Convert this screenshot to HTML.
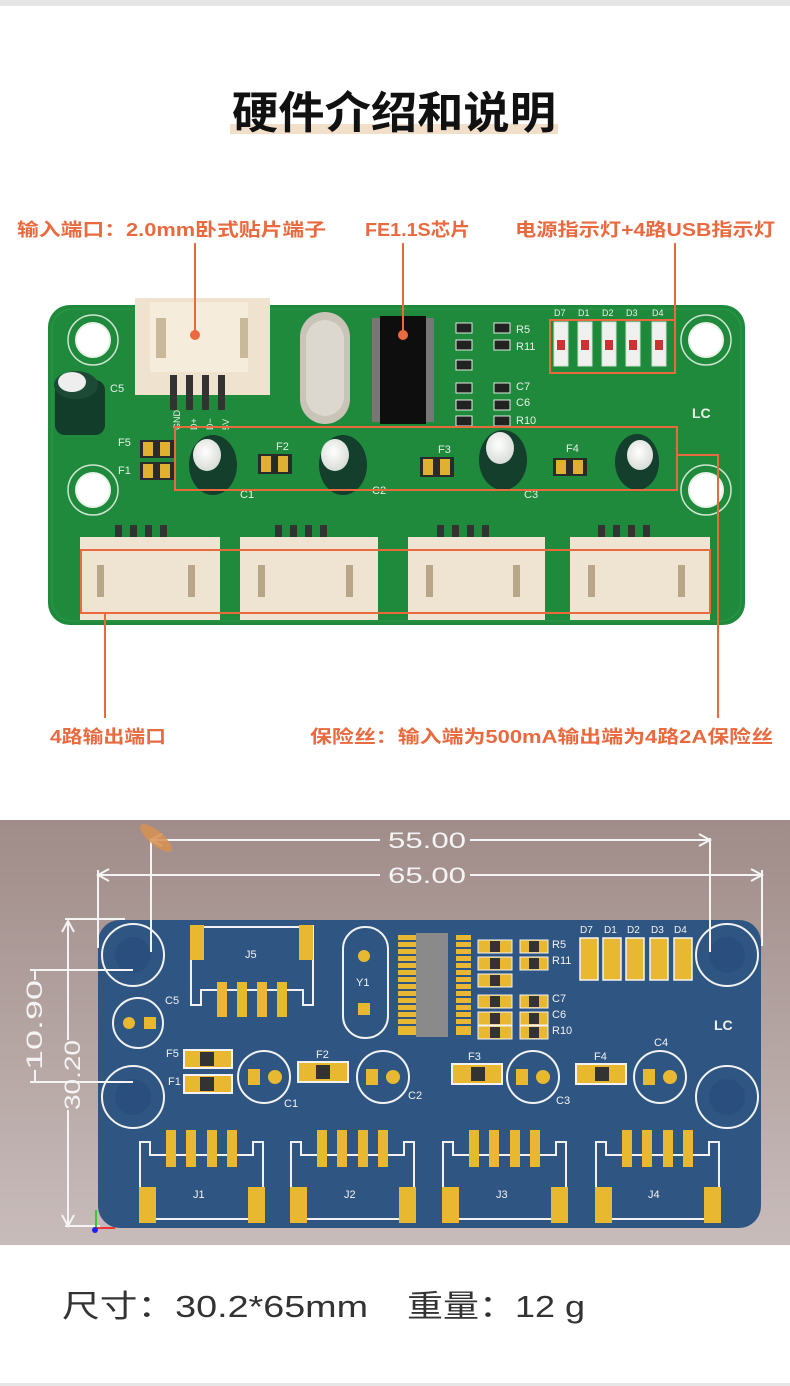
<!DOCTYPE html>
<html><head><meta charset="utf-8"><style>
html,body{margin:0;padding:0;background:#fff;width:790px;height:1386px;overflow:hidden}
svg{display:block}
text{font-family:"Liberation Sans","Noto Sans CJK SC",sans-serif}
</style></head><body>
<svg width="790" height="1386" viewBox="0 0 790 1386" xmlns="http://www.w3.org/2000/svg">
<defs>
<linearGradient id="bg2" x1="0" y1="0" x2="0" y2="1">
<stop offset="0" stop-color="#a08c89"/><stop offset="1" stop-color="#c8bcba"/>
</linearGradient>
<radialGradient id="capT" cx="0.45" cy="0.4" r="0.6"><stop offset="0" stop-color="#ffffff"/><stop offset="1" stop-color="#d8dcd8"/></radialGradient>
</defs>
<rect x="0" y="0" width="790" height="6" fill="#e6e6e6"/>
<!-- Title -->
<rect x="230" y="124" width="328" height="10" fill="#f1dfca"/>
<text x="232" y="128" font-size="44" font-weight="bold" fill="#111" textLength="324" lengthAdjust="spacingAndGlyphs">硬件介绍和说明</text>
<!-- top labels -->
<g fill="#ea6a3f" font-size="18" font-weight="bold">
<text x="17" y="236" textLength="309" lengthAdjust="spacingAndGlyphs">输入端口：2.0mm卧式贴片端子</text>
<text x="365" y="236" textLength="105" lengthAdjust="spacingAndGlyphs">FE1.1S芯片</text>
<text x="515" y="236" textLength="260" lengthAdjust="spacingAndGlyphs">电源指示灯+4路USB指示灯</text>
<text x="50" y="743" textLength="116" lengthAdjust="spacingAndGlyphs">4路输出端口</text>
<text x="310" y="743" textLength="463" lengthAdjust="spacingAndGlyphs">保险丝：输入端为500mA输出端为4路2A保险丝</text>
</g>

<!-- green PCB photo -->
<rect x="48" y="305" width="697" height="320" rx="22" fill="#1f8a3c"/>
<rect x="52" y="309" width="689" height="312" rx="20" fill="none" stroke="#2a9a48" stroke-width="1"/>
<g fill="#fff" stroke="#e8f2e8" stroke-width="2">
<circle cx="93" cy="340" r="17"/><circle cx="93" cy="490" r="17"/>
<circle cx="706" cy="340" r="17"/><circle cx="706" cy="490" r="17"/>
</g>
<g fill="none" stroke="#cfe5d0" stroke-width="1.5">
<circle cx="93" cy="340" r="25"/><circle cx="93" cy="490" r="25"/>
<circle cx="706" cy="340" r="25"/><circle cx="706" cy="490" r="25"/>
</g>
<!-- input connector -->
<rect x="135" y="298" width="135" height="97" fill="#efe3cf"/>
<rect x="150" y="302" width="98" height="70" fill="#f6ecdc"/>
<rect x="156" y="318" width="10" height="40" fill="#c9b89a"/><rect x="240" y="318" width="8" height="40" fill="#c9b89a"/>
<g fill="#333"><rect x="170" y="375" width="7" height="35"/><rect x="186" y="375" width="7" height="35"/><rect x="202" y="375" width="7" height="35"/><rect x="218" y="375" width="7" height="35"/></g>
<g fill="#e8f0e8" font-size="9"><text x="180" y="430" transform="rotate(-90 180 430)">GND</text><text x="197" y="430" transform="rotate(-90 197 430)">D+</text><text x="213" y="430" transform="rotate(-90 213 430)">D−</text><text x="229" y="430" transform="rotate(-90 229 430)">5V</text></g>
<!-- crystal -->
<rect x="300" y="312" width="50" height="112" rx="25" fill="#c9c3b8"/>
<rect x="306" y="320" width="38" height="96" rx="19" fill="#ddd8cf"/>
<!-- IC -->
<rect x="372" y="318" width="62" height="104" fill="#777"/>
<rect x="380" y="316" width="46" height="108" fill="#0e0e0e"/>
<!-- resistors -->
<g fill="#222" stroke="#e0ece0" stroke-width="1">
<rect x="456" y="323" width="16" height="10"/><rect x="456" y="340" width="16" height="10"/><rect x="456" y="360" width="16" height="10"/>
<rect x="456" y="383" width="16" height="10"/><rect x="456" y="400" width="16" height="10"/><rect x="456" y="416" width="16" height="10"/>
<rect x="494" y="323" width="16" height="10"/><rect x="494" y="340" width="16" height="10"/>
<rect x="494" y="383" width="16" height="10"/><rect x="494" y="400" width="16" height="10"/><rect x="494" y="416" width="16" height="10"/>
</g>
<g fill="#e8f0e8" font-size="11"><text x="516" y="333">R5</text><text x="516" y="350">R11</text><text x="516" y="390">C7</text><text x="516" y="406">C6</text><text x="516" y="424">R10</text><text x="110" y="392">C5</text><text x="118" y="446">F5</text><text x="118" y="474">F1</text><text x="276" y="450">F2</text><text x="438" y="453">F3</text><text x="566" y="452">F4</text><text x="240" y="498">C1</text><text x="372" y="494">C2</text><text x="524" y="498">C3</text><text x="692" y="418" font-weight="bold" font-size="14">LC</text></g>
<g fill="#e8f0e8" font-size="9"><text x="554" y="316">D7</text><text x="578" y="316">D1</text><text x="602" y="316">D2</text><text x="626" y="316">D3</text><text x="652" y="316">D4</text></g>
<!-- LEDs -->
<g fill="#f0f0ee" stroke="#cfe0cf"><rect x="554" y="322" width="14" height="44"/><rect x="578" y="322" width="14" height="44"/><rect x="602" y="322" width="14" height="44"/><rect x="626" y="322" width="14" height="44"/><rect x="652" y="322" width="14" height="44"/></g>
<g fill="#c33"><rect x="557" y="340" width="8" height="10"/><rect x="581" y="340" width="8" height="10"/><rect x="605" y="340" width="8" height="10"/><rect x="629" y="340" width="8" height="10"/><rect x="655" y="340" width="8" height="10"/></g>
<!-- C5 -->
<rect x="55" y="380" width="50" height="55" rx="10" fill="#123d2a"/>
<ellipse cx="76" cy="385" rx="22" ry="14" fill="#1c4a36"/><ellipse cx="72" cy="382" rx="14" ry="10" fill="#eee"/>
<!-- fuses -->
<g><rect x="140" y="440" width="34" height="18" fill="#2a2a2a"/><rect x="143" y="442" width="10" height="14" fill="#e0b030"/><rect x="160" y="442" width="10" height="14" fill="#e0b030"/>
<rect x="140" y="462" width="34" height="18" fill="#2a2a2a"/><rect x="143" y="464" width="10" height="14" fill="#e0b030"/><rect x="160" y="464" width="10" height="14" fill="#e0b030"/>
<rect x="258" y="454" width="34" height="20" fill="#2a2a2a"/><rect x="261" y="456" width="10" height="16" fill="#e0b030"/><rect x="278" y="456" width="10" height="16" fill="#e0b030"/>
<rect x="420" y="457" width="34" height="20" fill="#2a2a2a"/><rect x="423" y="459" width="10" height="16" fill="#e0b030"/><rect x="440" y="459" width="10" height="16" fill="#e0b030"/>
<rect x="553" y="458" width="34" height="18" fill="#2a2a2a"/><rect x="556" y="460" width="10" height="14" fill="#e0b030"/><rect x="573" y="460" width="10" height="14" fill="#e0b030"/></g>
<!-- caps -->
<g fill="#133f2c"><ellipse cx="213" cy="465" rx="24" ry="30"/><ellipse cx="343" cy="465" rx="24" ry="30"/><ellipse cx="503" cy="460" rx="24" ry="30"/><ellipse cx="637" cy="462" rx="22" ry="28"/></g>
<g fill="url(#capT)"><ellipse cx="207" cy="455" rx="14" ry="16"/><ellipse cx="335" cy="455" rx="14" ry="16"/><ellipse cx="500" cy="448" rx="14" ry="16"/><ellipse cx="640" cy="455" rx="13" ry="15"/></g>
<!-- output pins labels -->
<g fill="#e8f0e8" font-size="10">
<text x="124" y="530" transform="rotate(90 124 530)" style="display:none"></text>
</g>
<g fill="#333">
<rect x="115" y="525" width="7" height="22"/><rect x="130" y="525" width="7" height="22"/><rect x="145" y="525" width="7" height="22"/><rect x="160" y="525" width="7" height="22"/>
<rect x="275" y="525" width="7" height="22"/><rect x="290" y="525" width="7" height="22"/><rect x="305" y="525" width="7" height="22"/><rect x="320" y="525" width="7" height="22"/>
<rect x="437" y="525" width="7" height="22"/><rect x="452" y="525" width="7" height="22"/><rect x="467" y="525" width="7" height="22"/><rect x="482" y="525" width="7" height="22"/>
<rect x="598" y="525" width="7" height="22"/><rect x="613" y="525" width="7" height="22"/><rect x="628" y="525" width="7" height="22"/><rect x="643" y="525" width="7" height="22"/>
</g>
<!-- output connectors -->
<g fill="#efe4d2">
<rect x="80" y="537" width="140" height="83"/><rect x="240" y="537" width="138" height="83"/><rect x="408" y="537" width="137" height="83"/><rect x="570" y="537" width="140" height="83"/>
</g>
<g fill="#b8a688">
<rect x="97" y="565" width="7" height="32"/><rect x="188" y="565" width="7" height="32"/>
<rect x="258" y="565" width="7" height="32"/><rect x="346" y="565" width="7" height="32"/>
<rect x="426" y="565" width="7" height="32"/><rect x="513" y="565" width="7" height="32"/>
<rect x="588" y="565" width="7" height="32"/><rect x="678" y="565" width="7" height="32"/>
</g>
<!-- orange callouts -->
<g stroke="#ea6a3f" stroke-width="2" fill="none">
<line x1="195" y1="243" x2="195" y2="335"/><line x1="403" y1="243" x2="403" y2="335"/><line x1="675" y1="243" x2="675" y2="320"/>
<rect x="550" y="320" width="125" height="53"/><rect x="175" y="427" width="502" height="63"/><rect x="81" y="550" width="629" height="63"/>
<line x1="105" y1="613" x2="105" y2="718"/><polyline points="677,455 718,455 718,718"/>
</g>
<circle cx="195" cy="335" r="5" fill="#ea6a3f"/><circle cx="403" cy="335" r="5" fill="#ea6a3f"/>

<!-- lower render -->
<rect x="0" y="820" width="790" height="425" fill="url(#bg2)"/>
<rect x="98" y="920" width="663" height="308" rx="22" fill="#2f5683"/>
<g fill="none" stroke="#f2f2f2" stroke-width="2">
<circle cx="133" cy="955" r="31"/><circle cx="133" cy="1097" r="31"/><circle cx="727" cy="955" r="31"/><circle cx="727" cy="1097" r="31"/>
<circle cx="138" cy="1023" r="25"/>
<circle cx="264" cy="1077" r="26"/><circle cx="383" cy="1077" r="26"/><circle cx="533" cy="1077" r="26"/><circle cx="660" cy="1077" r="26"/>
<rect x="343" y="927" width="45" height="111" rx="22"/>
<polyline points="191,925 191,1005 201,1005 201,990 303,990 303,1005 313,1005 313,925"/>
<line x1="191" y1="927" x2="313" y2="927"/>
</g>
<g fill="#2a4f7e"><circle cx="133" cy="955" r="18"/><circle cx="133" cy="1097" r="18"/><circle cx="727" cy="955" r="18"/><circle cx="727" cy="1097" r="18"/></g>
<g fill="#e8b830">
<rect x="190" y="925" width="14" height="35"/><rect x="299" y="925" width="14" height="35"/>
<rect x="217" y="982" width="10" height="35"/><rect x="237" y="982" width="10" height="35"/><rect x="257" y="982" width="10" height="35"/><rect x="277" y="982" width="10" height="35"/>
<circle cx="364" cy="956" r="6"/><rect x="358" y="1003" width="12" height="12"/>
<circle cx="129" cy="1023" r="6"/><rect x="144" y="1017" width="12" height="12"/>
</g>
<!-- IC -->
<g fill="#e8b830">
<rect x="398" y="935" width="18" height="100"/><rect x="456" y="935" width="15" height="100"/>
</g>
<g stroke="#2f5683" stroke-width="2">
<line x1="398" y1="941" x2="471" y2="941"/><line x1="398" y1="948" x2="471" y2="948"/><line x1="398" y1="955" x2="471" y2="955"/><line x1="398" y1="962" x2="471" y2="962"/><line x1="398" y1="969" x2="471" y2="969"/><line x1="398" y1="976" x2="471" y2="976"/><line x1="398" y1="983" x2="471" y2="983"/><line x1="398" y1="990" x2="471" y2="990"/><line x1="398" y1="997" x2="471" y2="997"/><line x1="398" y1="1004" x2="471" y2="1004"/><line x1="398" y1="1011" x2="471" y2="1011"/><line x1="398" y1="1018" x2="471" y2="1018"/><line x1="398" y1="1025" x2="471" y2="1025"/>
</g>
<rect x="416" y="933" width="32" height="104" fill="#8a8a8a"/>
<!-- small R/C -->
<g fill="#e8b830" stroke="#f2f2f2" stroke-width="1">
<rect x="478" y="940" width="34" height="13"/><rect x="478" y="957" width="34" height="13"/><rect x="478" y="974" width="34" height="13"/>
<rect x="478" y="995" width="34" height="13"/><rect x="478" y="1012" width="34" height="13"/><rect x="478" y="1026" width="34" height="13"/>
<rect x="520" y="940" width="28" height="13"/><rect x="520" y="957" width="28" height="13"/>
<rect x="520" y="995" width="28" height="13"/><rect x="520" y="1012" width="28" height="13"/><rect x="520" y="1026" width="28" height="13"/>
</g>
<g fill="#333"><rect x="490" y="941" width="10" height="11"/><rect x="490" y="958" width="10" height="11"/><rect x="490" y="975" width="10" height="11"/><rect x="490" y="996" width="10" height="11"/><rect x="490" y="1013" width="10" height="11"/><rect x="490" y="1027" width="10" height="11"/><rect x="529" y="941" width="10" height="11"/><rect x="529" y="958" width="10" height="11"/><rect x="529" y="996" width="10" height="11"/><rect x="529" y="1013" width="10" height="11"/><rect x="529" y="1027" width="10" height="11"/></g>
<!-- LEDs -->
<g fill="#e8b830" stroke="#f2f2f2" stroke-width="1.5"><rect x="580" y="938" width="18" height="42"/><rect x="603" y="938" width="18" height="42"/><rect x="626" y="938" width="18" height="42"/><rect x="650" y="938" width="18" height="42"/><rect x="674" y="938" width="18" height="42"/></g>
<!-- fuses -->
<g fill="#e8b830" stroke="#f2f2f2" stroke-width="2">
<rect x="184" y="1050" width="48" height="18"/><rect x="184" y="1075" width="48" height="18"/>
<rect x="298" y="1062" width="50" height="20"/><rect x="452" y="1064" width="50" height="20"/><rect x="576" y="1064" width="50" height="20"/>
</g>
<g fill="#333"><rect x="200" y="1052" width="14" height="14"/><rect x="200" y="1077" width="14" height="14"/><rect x="316" y="1065" width="14" height="14"/><rect x="471" y="1067" width="14" height="14"/><rect x="595" y="1067" width="14" height="14"/></g>
<g fill="#e8b830"><rect x="248" y="1069" width="12" height="16"/><circle cx="275" cy="1077" r="7"/><rect x="366" y="1069" width="12" height="16"/><circle cx="393" cy="1077" r="7"/><rect x="516" y="1069" width="12" height="16"/><circle cx="543" cy="1077" r="7"/><rect x="643" y="1069" width="12" height="16"/><circle cx="670" cy="1077" r="7"/></g>
<!-- J connectors -->
<g id="j" fill="none" stroke="#f2f2f2" stroke-width="2">
<polyline points="140,1190 140,1142 150,1142 150,1155 253,1155 253,1142 263,1142 263,1190"/>
<line x1="155" y1="1219" x2="250" y2="1219"/>
</g>
<g fill="none" stroke="#f2f2f2" stroke-width="2" transform="translate(151 0)"><polyline points="140,1190 140,1142 150,1142 150,1155 253,1155 253,1142 263,1142 263,1190"/><line x1="155" y1="1219" x2="250" y2="1219"/></g>
<g fill="none" stroke="#f2f2f2" stroke-width="2" transform="translate(303 0)"><polyline points="140,1190 140,1142 150,1142 150,1155 253,1155 253,1142 263,1142 263,1190"/><line x1="155" y1="1219" x2="250" y2="1219"/></g>
<g fill="none" stroke="#f2f2f2" stroke-width="2" transform="translate(456 0)"><polyline points="140,1190 140,1142 150,1142 150,1155 253,1155 253,1142 263,1142 263,1190"/><line x1="155" y1="1219" x2="250" y2="1219"/></g>
<g fill="#e8b830">
<g><rect x="139" y="1187" width="17" height="36"/><rect x="248" y="1187" width="17" height="36"/><rect x="166" y="1130" width="10" height="37"/><rect x="186" y="1130" width="10" height="37"/><rect x="207" y="1130" width="10" height="37"/><rect x="227" y="1130" width="10" height="37"/></g>
<g transform="translate(151 0)"><rect x="139" y="1187" width="17" height="36"/><rect x="248" y="1187" width="17" height="36"/><rect x="166" y="1130" width="10" height="37"/><rect x="186" y="1130" width="10" height="37"/><rect x="207" y="1130" width="10" height="37"/><rect x="227" y="1130" width="10" height="37"/></g>
<g transform="translate(303 0)"><rect x="139" y="1187" width="17" height="36"/><rect x="248" y="1187" width="17" height="36"/><rect x="166" y="1130" width="10" height="37"/><rect x="186" y="1130" width="10" height="37"/><rect x="207" y="1130" width="10" height="37"/><rect x="227" y="1130" width="10" height="37"/></g>
<g transform="translate(456 0)"><rect x="139" y="1187" width="17" height="36"/><rect x="248" y="1187" width="17" height="36"/><rect x="166" y="1130" width="10" height="37"/><rect x="186" y="1130" width="10" height="37"/><rect x="207" y="1130" width="10" height="37"/><rect x="227" y="1130" width="10" height="37"/></g>
</g>
<g fill="#f2f2f2" font-size="11">
<text x="193" y="1198">J1</text><text x="344" y="1198">J2</text><text x="496" y="1198">J3</text><text x="648" y="1198">J4</text>
<text x="165" y="1004">C5</text><text x="166" y="1057">F5</text><text x="168" y="1085">F1</text><text x="316" y="1058">F2</text><text x="468" y="1060">F3</text><text x="594" y="1060">F4</text><text x="654" y="1046">C4</text>
<text x="284" y="1107">C1</text><text x="408" y="1099">C2</text><text x="556" y="1104">C3</text>
<text x="356" y="986">Y1</text><text x="245" y="958">J5</text>
<text x="552" y="948">R5</text><text x="552" y="964">R11</text><text x="552" y="1002">C7</text><text x="552" y="1018">C6</text><text x="552" y="1034">R10</text>
<text x="580" y="933" font-size="10">D7</text><text x="604" y="933" font-size="10">D1</text><text x="627" y="933" font-size="10">D2</text><text x="651" y="933" font-size="10">D3</text><text x="674" y="933" font-size="10">D4</text>
<text x="714" y="1030" font-weight="bold" font-size="14">LC</text>
</g>
<!-- dimensions -->
<g stroke="#f4f4f4" stroke-width="2" fill="none">
<line x1="151" y1="840" x2="380" y2="840"/><line x1="470" y1="840" x2="710" y2="840"/>
<line x1="98" y1="875" x2="380" y2="875"/><line x1="470" y1="875" x2="760" y2="875"/>
<line x1="151" y1="838" x2="151" y2="952"/><line x1="710" y1="838" x2="710" y2="952"/>
<line x1="98" y1="870" x2="98" y2="948"/><line x1="762" y1="870" x2="762" y2="946"/>
<line x1="65" y1="919" x2="125" y2="919"/><line x1="68" y1="921" x2="68" y2="1040"/><line x1="68" y1="1110" x2="68" y2="1226"/><line x1="65" y1="1226" x2="100" y2="1226"/>
<line x1="30" y1="970" x2="133" y2="970"/><line x1="30" y1="1082" x2="133" y2="1082"/><line x1="35" y1="970" x2="35" y2="980"/><line x1="35" y1="1070" x2="35" y2="1082"/>
<polyline points="162,834 151,840 162,846"/><polyline points="699,834 710,840 699,846"/>
<polyline points="109,869 98,875 109,881"/><polyline points="751,869 762,875 751,881"/>
<polyline points="62,932 68,921 74,932"/><polyline points="62,1215 68,1226 74,1215"/>
</g>
<g fill="#f4f4f4" font-size="22" font-family="Liberation Mono">
<text x="388" y="848" font-family="Liberation Mono, monospace" textLength="78" lengthAdjust="spacingAndGlyphs">55.00</text>
<text x="388" y="883" font-family="Liberation Mono, monospace" textLength="78" lengthAdjust="spacingAndGlyphs">65.00</text>
<text x="42" y="1070" transform="rotate(-90 42 1070)" font-family="Liberation Mono, monospace" textLength="90" lengthAdjust="spacingAndGlyphs">10.90</text>
<text x="80" y="1110" transform="rotate(-90 80 1110)" font-family="Liberation Mono, monospace" textLength="70" lengthAdjust="spacingAndGlyphs">30.20</text>
</g>
<ellipse cx="156" cy="838" rx="20" ry="7" transform="rotate(40 156 838)" fill="#d89050" opacity="0.85"/>
<g stroke-width="2"><line x1="96" y1="1210" x2="96" y2="1228" stroke="#3c3"/><line x1="96" y1="1228" x2="115" y2="1228" stroke="#e33"/></g>
<circle cx="95" cy="1230" r="3" fill="#22e"/>

<!-- bottom text -->
<text x="62" y="1317" font-size="31" fill="#333" textLength="306" lengthAdjust="spacingAndGlyphs">尺寸：30.2*65mm</text>
<text x="407" y="1317" font-size="31" fill="#333" textLength="178" lengthAdjust="spacingAndGlyphs">重量：12 g</text>
<rect x="0" y="1383" width="790" height="3" fill="#e6e6e6"/>
</svg>
</body></html>
